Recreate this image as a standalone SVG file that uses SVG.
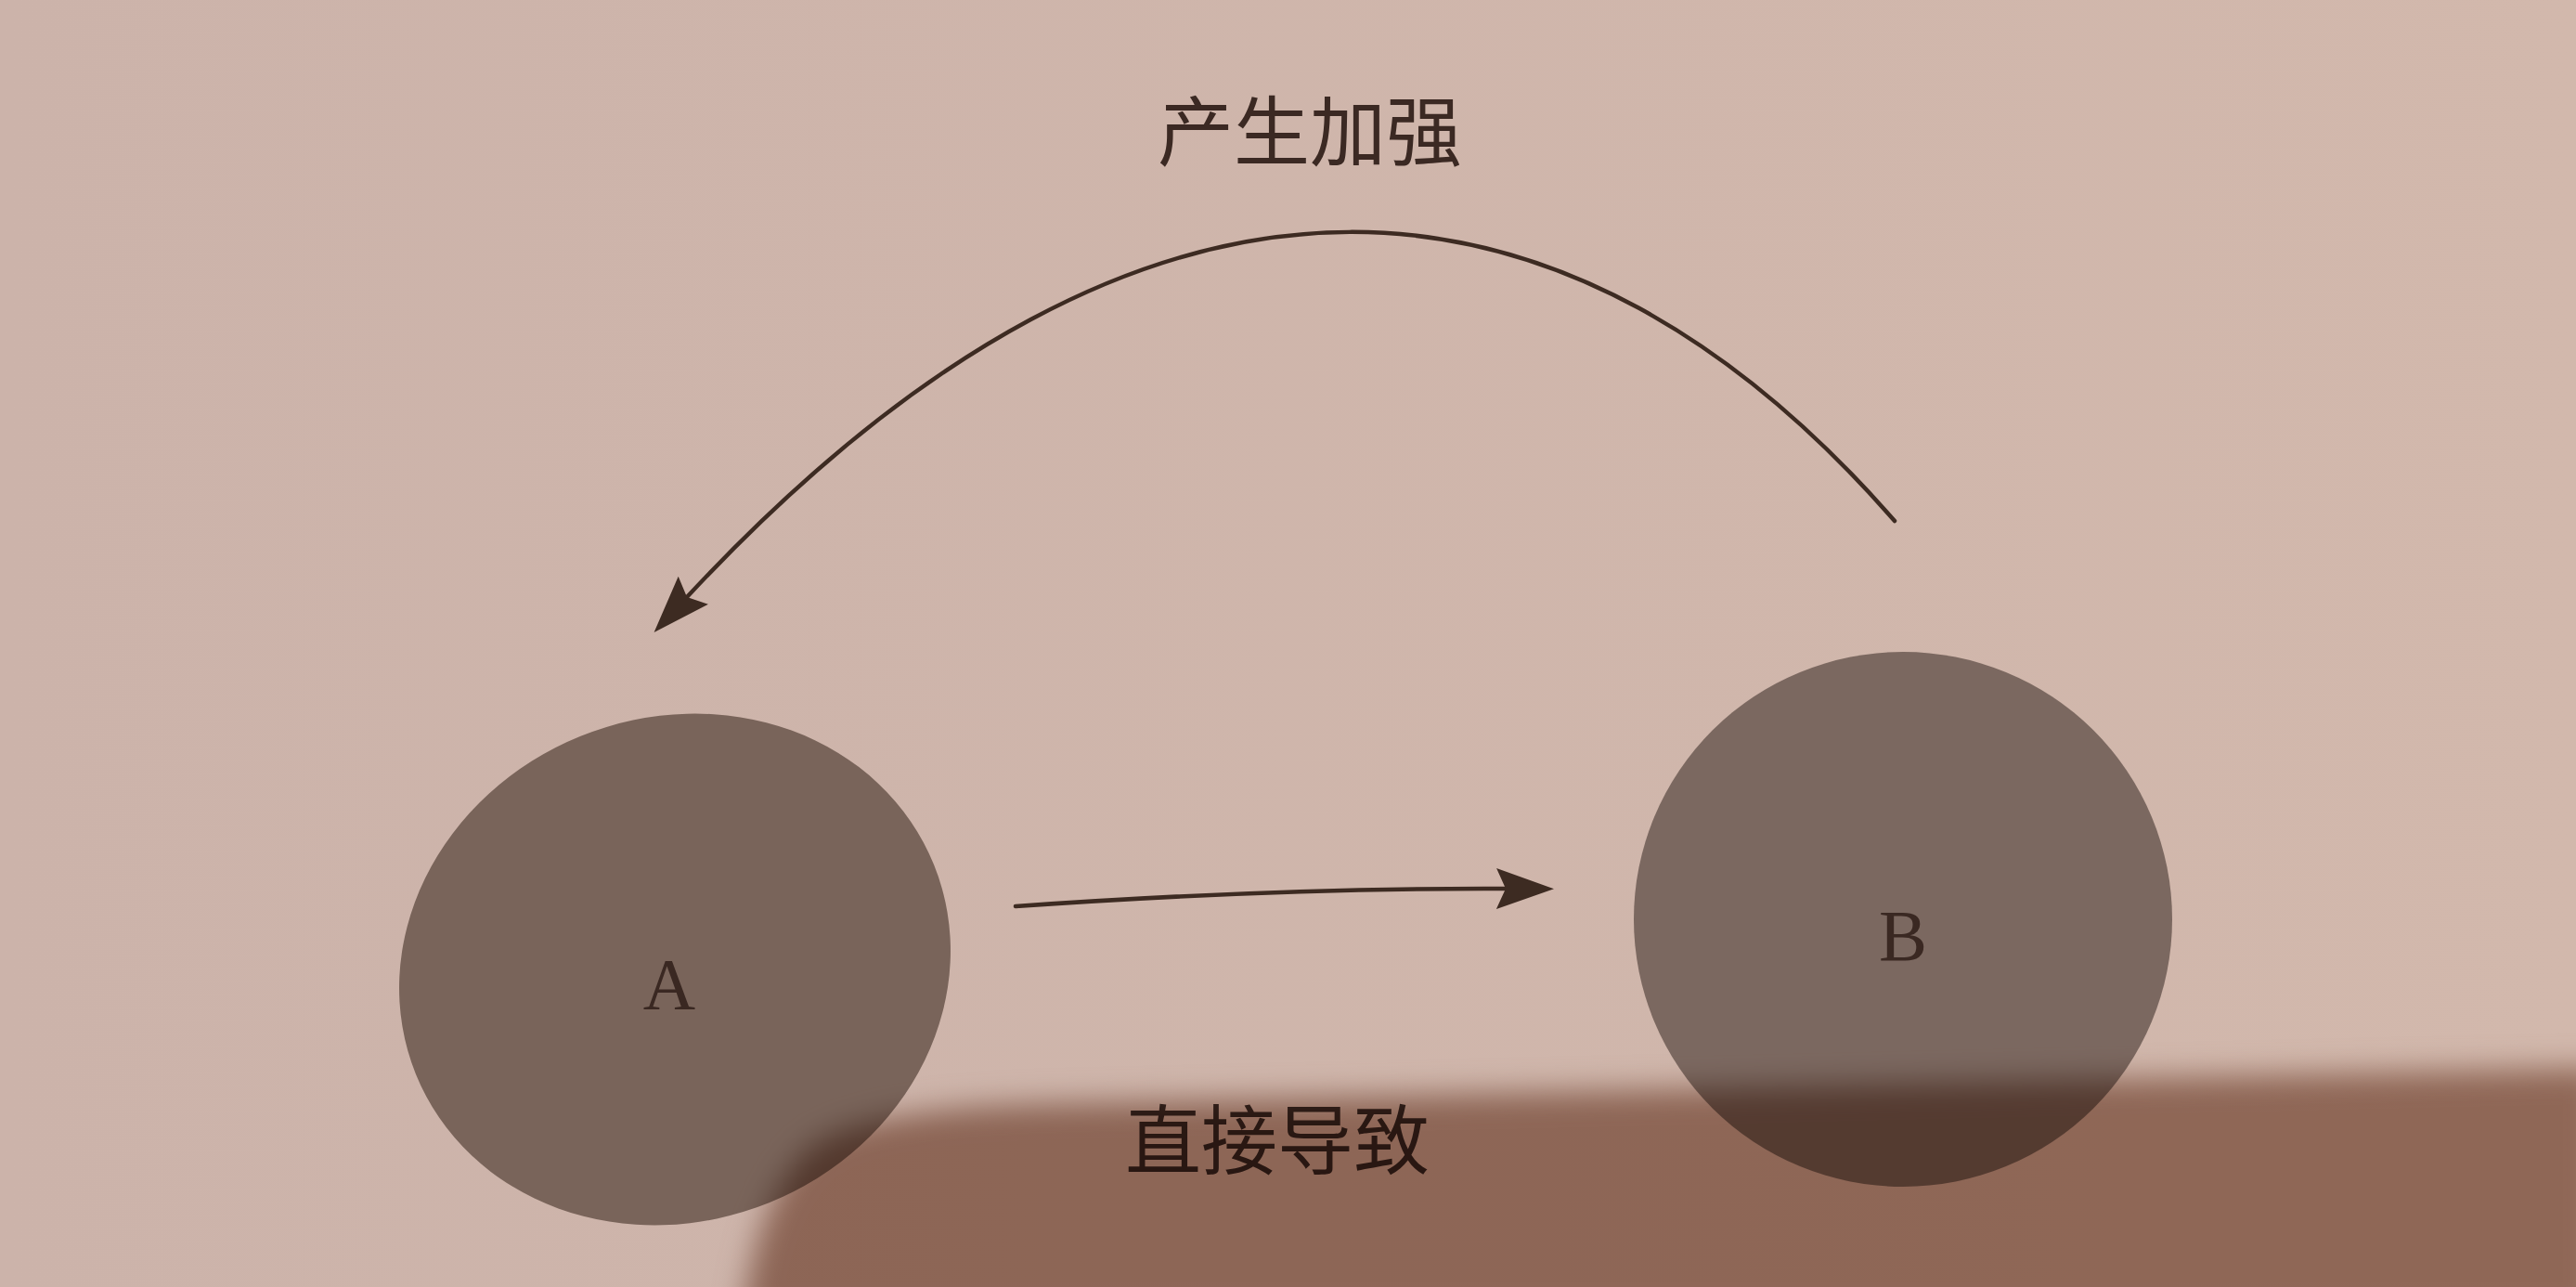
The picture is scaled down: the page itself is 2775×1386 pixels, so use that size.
<svg xmlns="http://www.w3.org/2000/svg" width="2775" height="1386" viewBox="0 0 2775 1386">
  <style>
    .node { fill: #79645a; }
    .nlabel { font-family: "Liberation Serif", "Times New Roman", serif; font-size: 78px; fill: #3a2822; text-anchor: middle; }
    .elabel { font-family: "Noto Sans CJK SC", "Noto Sans", sans-serif; font-size: 82px; font-weight: 400; fill: #3b2923; text-anchor: middle; }
    .conn { fill: none; stroke: #3d2b22; stroke-width: 4.5; stroke-linecap: round; }
  </style>
  <defs>
    <linearGradient id="paper" x1="0" y1="0" x2="1" y2="0">
      <stop offset="0" stop-color="#ccb3aa"/>
      <stop offset="1" stop-color="#d2b8ac"/>
    </linearGradient>
    <filter id="soft" x="-10%" y="-20%" width="120%" height="140%">
      <feGaussianBlur stdDeviation="16"/>
    </filter>
    <marker id="ah" markerUnits="userSpaceOnUse" markerWidth="80" markerHeight="60" viewBox="0 -30 80 60" refX="10" refY="0" orient="auto">
      <path d="M0,-22 L62,0 L0,22 L10,0 Z" fill="#3d2b22"/>
    </marker>
  </defs>
  <rect x="0" y="0" width="2775" height="1386" fill="url(#paper)"/>

  <g id="node-A">
    <ellipse class="node" cx="727" cy="1044" rx="301" ry="271" transform="rotate(-22 727 1044)"/>
    <text class="nlabel" x="721" y="1086">A</text>
  </g>
  <g id="node-B">
    <ellipse class="node" cx="2050" cy="990" rx="290" ry="288" style="fill:#7b6860"/>
    <text class="nlabel" x="2050" y="1034">B</text>
  </g>

  <g id="connectors">
    <path class="conn" d="M2041,561 C1700,170 1250,95 740,643" marker-end="url(#ah)"/>
    <path class="conn" d="M1094,976 Q1380,956 1622,957" marker-end="url(#ah)"/>
  </g>

  <g id="labels">
    <text class="elabel" x="1411" y="172">产生加强</text>
    <text class="elabel" x="1376" y="1258">直接导致</text>
  </g>

  <g id="shadow" style="mix-blend-mode:multiply">
    <path d="M2800,1150 L1150,1188 Q920,1192 868,1240 Q815,1295 800,1420 L2800,1420 Z" fill="#ae8f80" filter="url(#soft)"/>
  </g>
</svg>
